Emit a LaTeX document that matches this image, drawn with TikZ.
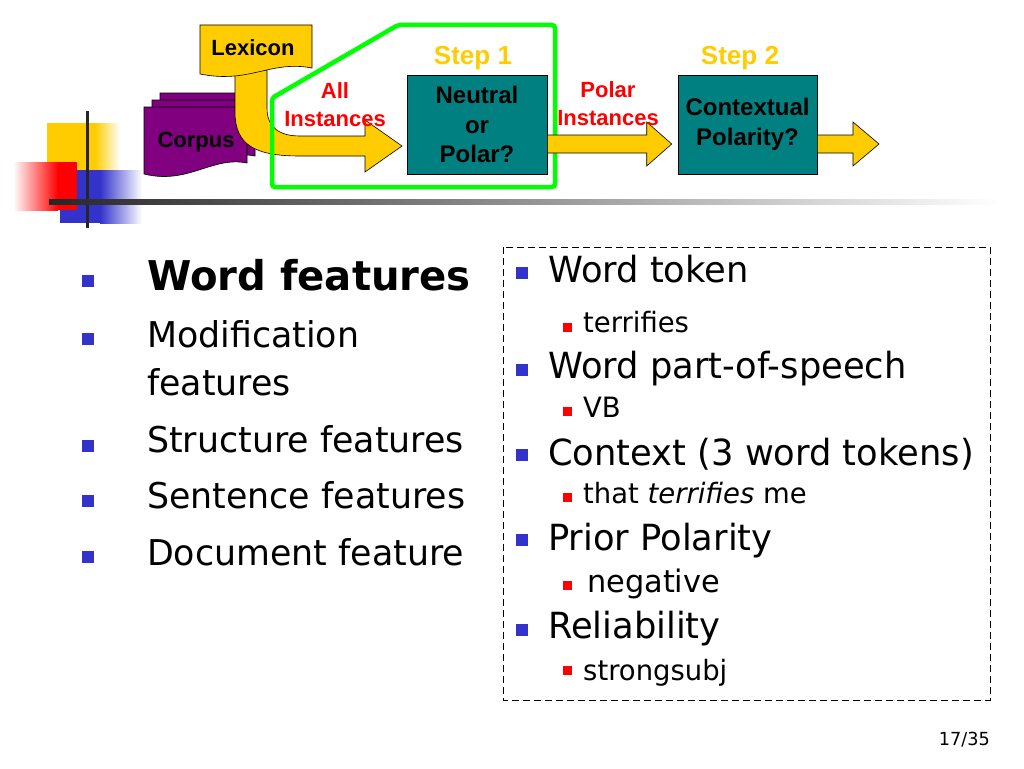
\documentclass[tikz,border=0pt]{standalone}
\usepackage{fontspec}
\setmainfont{DejaVu Sans}[FakeStretch=0.98]
\newfontfamily\arialfont{Liberation Sans}
\usetikzlibrary{calc}
\definecolor{gold}{HTML}{FFCC00}
\definecolor{tealbox}{HTML}{008080}
\definecolor{corpuspurple}{HTML}{800080}
\definecolor{bulblue}{HTML}{3333CC}
\definecolor{brightgreen}{HTML}{00FF00}
\definecolor{brightred}{HTML}{FF0000}
\begin{document}
\begin{tikzpicture}[x=1pt,y=-1pt,
  diagtext/.style={font=\arialfont\bfseries\fontsize{22}{28}\selectfont, align=center, inner sep=0},
  redlbl/.style={diagtext, text=brightred},
  steplbl/.style={font=\arialfont\bfseries\fontsize{26}{30}\selectfont, text=gold, inner sep=0},
  procbox/.style={draw=black, line width=0.6, fill=tealbox, align=center, inner sep=0,
     font=\arialfont\bfseries\fontsize{24}{29.5}\selectfont},
  docshape/.style={draw=black, line width=0.6},
  blockarrow/.style={fill=gold, draw=black, line width=0.6},
  blt/.style={fill=bulblue, minimum size=12, inner sep=0, outer sep=0},
  sblt/.style={fill=brightred, minimum size=9, inner sep=0, outer sep=0},
  itemL/.style={anchor=base west, inner sep=0, font=\fontsize{35.5}{42}\selectfont},
  itemLb/.style={anchor=base west, inner sep=0, font=\bfseries\fontsize{41}{48}\selectfont},
  itemR/.style={anchor=base west, inner sep=0, font=\fontsize{36}{42}\selectfont},
  subR/.style={anchor=base west, inner sep=0, font=\fontsize{28}{34}\selectfont}
]
\useasboundingbox (0,0) rectangle (1024,768);
\fill[white] (0,0) rectangle (1024,768);

% ---- corner decoration ----
\fill[gold] (47,123) rectangle (95,170);
\shade[left color=gold, right color=white] (95,123) rectangle (120,170);
\fill[bulblue] (60,170) rectangle (100,223);
\shade[left color=bulblue, right color=white] (100,170) rectangle (142,223);
\shade[left color=white, right color=brightred] (13,162) rectangle (58,210);
\fill[brightred] (58,162) rectangle (77,210);
\draw[line width=3, black!85] (87,111) -- (87,228);
\shade[left color=black!85, right color=white] (49,199.5) rectangle (1000,204.5);

% ---- corpus (stacked documents) ----
\foreach \dx/\dy in {16/-14, 8/-7, 0/0} {
  \filldraw[docshape, fill=corpuspurple, shift={(\dx,\dy)}]
    (144,107) -- (247,107) -- (247,163)
    .. controls (212,156) and (188,185) .. (144,174) -- cycle;
}
\node[diagtext] (corpus) at (196,142) {Corpus};

% ---- curved yellow arrow from lexicon ----
\filldraw[blockarrow] (235,70) -- (235,112)
  .. controls (235,145) and (255,156) .. (300,156) -- (365,156) -- (365,172)
  -- (402,146) -- (365,120) -- (365,136) -- (300,136)
  .. controls (280,136) and (267,128) .. (267,108) -- (267,70) -- cycle;

% ---- lexicon document ----
\filldraw[docshape, fill=gold] (200,25) -- (312,25) -- (312,68)
  .. controls (270,60) and (250,84) .. (200,74) -- cycle;
\node[diagtext] (lex) at (253,48) {Lexicon};

% ---- step 1 frame ----
\draw[brightgreen, line width=4.5, rounded corners=3]
  (272,98) -- (272,187) -- (555,187) -- (555,25) -- (398,25) -- cycle;

\node[redlbl] (allinst) at (335,104.5) {All\\Instances};

% ---- processing boxes ----
\node[procbox, minimum width=140, minimum height=99] (np) at (477,124.5) {Neutral\\or\\Polar?};
\node[procbox, minimum width=139, minimum height=99] (ctx) at (747.5,124.5) {Contextual\\Polarity?};
\node[steplbl] (step1) at (473,58) {Step 1};
\node[steplbl] (step2) at (740,58) {Step 2};

% ---- block arrows ----
\filldraw[blockarrow] ($(np.east)+(0,10.5)$) -- ($(ctx.west)+(-31,10.5)$) -- ($(ctx.west)+(-31,-2.5)$)
  -- ($(ctx.west)+(-6,19.5)$) -- ($(ctx.west)+(-31,41.5)$) -- ($(ctx.west)+(-31,28.5)$)
  -- ($(np.east)+(0,28.5)$) -- cycle;
\node[redlbl] (polinst) at (608,104) {Polar\\Instances};
\coordinate (outend) at (879,144);
\filldraw[blockarrow] ($(ctx.east)+(0,10.5)$) -- ($(outend)+(-26,-9)$) -- ($(outend)+(-26,-22)$)
  -- (outend) -- ($(outend)+(-26,22)$) -- ($(outend)+(-26,9)$)
  -- ($(ctx.east)+(0,28.5)$) -- cycle;

% ---- left bullet list ----
\node[blt] (lb1) at (88,281) {};
\node[itemLb] (l1) at (147,290) {Word features};
\node[blt] (lb2) at (88,339) {};
\node[itemL] (l2) at (147,347) {Modification};
\node[itemL] (l2b) at (147,395) {features};
\node[blt] (lb3) at (88,446) {};
\node[itemL] (l3) at (147,452) {Structure features};
\node[blt] (lb4) at (88,501) {};
\node[itemL] (l4) at (147,508) {Sentence features};
\node[blt] (lb5) at (88,557) {};
\node[itemL] (l5) at (147,565) {Document feature};

% ---- right dashed box ----
\draw[dash pattern=on 7pt off 4pt, line width=1] (503,247) rectangle (990,700);
\node[blt] (rb1) at (522,273) {};
\node[itemR] (r1) at (548,282) {Word token};
\node[sblt] (rs1) at (567,327) {};
\node[subR] (s1) at (583,332) {terrifies};
\node[blt] (rb2) at (522,370) {};
\node[itemR] (r2) at (548,378) {Word part-of-speech};
\node[sblt] (rs2) at (567,411) {};
\node[subR] (s2) at (583,417) {VB};
\node[blt] (rb3) at (522,455) {};
\node[itemR] (r3) at (548,465) {Context (3 word tokens)};
\node[sblt] (rs3) at (567,497) {};
\node[subR] (s3) at (583,503) {that \textit{terrifies} me};
\node[blt] (rb4) at (522,540) {};
\node[itemR] (r4) at (548,550) {Prior Polarity};
\node[sblt] (rs4) at (567,585) {};
\node[subR, font=\fontsize{31}{36}\selectfont] (s4) at (587,592) {negative};
\node[blt] (rb5) at (522,630) {};
\node[itemR] (r5) at (548,638) {Reliability};
\node[sblt] (rs5) at (567,670) {};
\node[subR] (s5) at (583,680) {strongsubj};

\node[anchor=base east, inner sep=0, font=\fontsize{18}{22}\selectfont] (page) at (990,745) {17/35};
\end{tikzpicture}
\end{document}
